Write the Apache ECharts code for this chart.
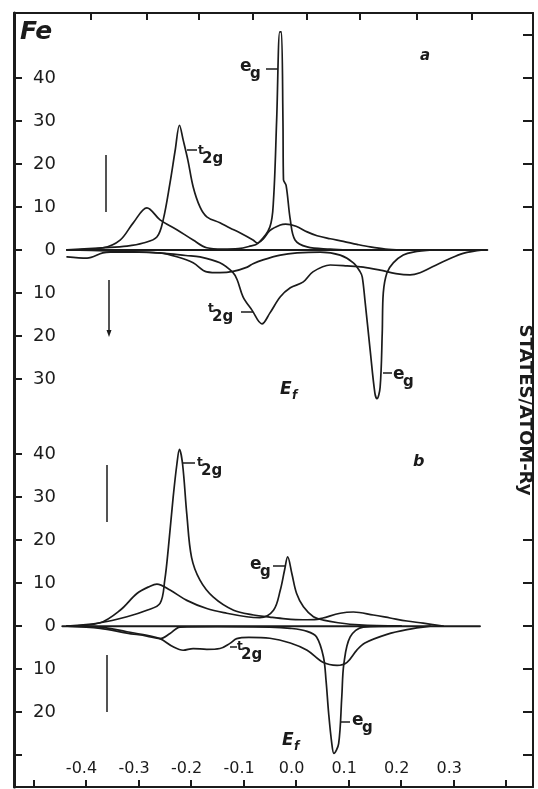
<!DOCTYPE html>
<html>
<head>
<meta charset="utf-8">
<script src="https://cdn.jsdelivr.net/npm/echarts@6/dist/echarts.min.js"></script>
<style>
  html, body { margin: 0; padding: 0; background: #fff; }
  #chart { width: 538px; height: 789px; }
</style>
</head>
<body>
<div id="chart"></div>
<script>
// Fe density of states, energy (Ry) on x, states/atom-Ry on y
// spin up drawn positive, spin down negative

// panel a
const aUpT2g = [[-0.436,0],[-0.368,0.5],[-0.322,0.9],[-0.291,1.6],[-0.265,3.0],[-0.253,7.0],[-0.240,15.6],[-0.230,23.3],[-0.222,29.0],[-0.215,25.6],[-0.206,20.9],[-0.196,14.7],[-0.183,10.0],[-0.170,7.7],[-0.145,6.3],[-0.126,5.1],[-0.107,4.0],[-0.082,2.3],[-0.074,1.6],[-0.063,2.5],[-0.050,4.5],[-0.030,5.8],[-0.020,6.0],[0.000,5.5],[0.021,4.2],[0.040,3.3],[0.065,2.6],[0.090,2.0],[0.116,1.3],[0.141,0.7],[0.170,0.2],[0.200,0]];
const aUpEg = [[-0.436,0],[-0.368,0.5],[-0.335,2.3],[-0.310,6.3],[-0.284,9.8],[-0.259,7.0],[-0.227,4.7],[-0.196,2.3],[-0.170,0.5],[-0.140,0.2],[-0.110,0.3],[-0.090,0.8],[-0.072,1.6],[-0.050,5.3],[-0.043,11.6],[-0.037,30.2],[-0.031,50.7],[-0.028,50.7],[-0.025,30.0],[-0.024,16.3],[-0.019,15.0],[-0.011,7.0],[-0.002,2.3],[0.021,0.7],[0.065,0.2],[0.100,0]];
const aDnT2g = [[-0.436,-1.6],[-0.398,-1.9],[-0.368,-0.7],[-0.354,-0.5],[-0.300,-0.5],[-0.250,-0.8],[-0.210,-1.3],[-0.183,-1.6],[-0.145,-3.0],[-0.120,-5.3],[-0.112,-7.0],[-0.101,-10.9],[-0.084,-14.0],[-0.065,-17.2],[-0.050,-14.7],[-0.030,-10.9],[-0.011,-8.8],[0.013,-7.5],[0.032,-5.1],[0.065,-3.5],[0.097,-3.7],[0.128,-4.0],[0.160,-4.7],[0.190,-5.5],[0.217,-5.8],[0.236,-5.3],[0.255,-4.2],[0.288,-2.3],[0.318,-0.8],[0.356,0]];
const aDnEg = [[-0.436,0],[-0.360,-0.2],[-0.300,-0.5],[-0.259,-0.7],[-0.227,-1.6],[-0.196,-3.0],[-0.170,-5.1],[-0.145,-5.3],[-0.120,-5.0],[-0.093,-4.0],[-0.082,-3.2],[-0.063,-2.3],[-0.030,-1.2],[0.002,-0.7],[0.046,-0.5],[0.084,-1.2],[0.109,-3.0],[0.122,-5.1],[0.126,-6.3],[0.131,-11.6],[0.141,-23.3],[0.150,-33.3],[0.154,-34.6],[0.160,-31.9],[0.164,-19.3],[0.166,-10.0],[0.173,-5.3],[0.185,-3.0],[0.204,-1.2],[0.223,-0.5],[0.260,0]];
const aZero = [[-0.436,0],[0.364,0]];

// panel b
const bUpT2g = [[-0.436,0],[-0.373,0.8],[-0.322,2.2],[-0.284,3.7],[-0.259,5.3],[-0.250,10.7],[-0.243,18.4],[-0.234,30.0],[-0.227,37.6],[-0.222,41.1],[-0.216,37.6],[-0.208,26.0],[-0.199,16.0],[-0.183,10.7],[-0.158,6.8],[-0.119,3.7],[-0.081,2.6],[-0.050,2.1],[-0.020,1.7],[0.013,1.5],[0.040,1.6],[0.051,1.9],[0.084,3.0],[0.109,3.3],[0.147,2.6],[0.179,1.9],[0.211,1.2],[0.242,0.7],[0.280,0]];
const bUpEg = [[-0.436,0],[-0.373,0.8],[-0.335,3.7],[-0.303,7.6],[-0.278,9.3],[-0.265,9.8],[-0.240,8.4],[-0.208,6.0],[-0.170,4.1],[-0.132,3.0],[-0.094,2.2],[-0.069,2.0],[-0.043,3.7],[-0.030,8.4],[-0.022,13.0],[-0.016,16.1],[-0.008,12.2],[0.001,7.6],[0.014,4.5],[0.033,2.2],[0.052,1.4],[0.080,0.8],[0.120,0.3],[0.200,0]];
const bDnT2g = [[-0.436,0],[-0.373,-0.2],[-0.322,-1.3],[-0.284,-2.1],[-0.259,-2.9],[-0.234,-4.8],[-0.215,-5.6],[-0.196,-5.2],[-0.170,-5.4],[-0.145,-5.2],[-0.126,-4.0],[-0.113,-2.9],[-0.090,-2.6],[-0.050,-2.8],[-0.011,-3.9],[0.021,-5.6],[0.051,-8.4],[0.078,-9.1],[0.097,-8.4],[0.116,-5.5],[0.131,-3.9],[0.173,-1.9],[0.211,-0.8],[0.255,0]];
const bDnEg = [[-0.436,0],[-0.373,-0.5],[-0.322,-1.6],[-0.284,-2.3],[-0.259,-2.9],[-0.240,-1.7],[-0.221,-0.2],[-0.150,-0.1],[-0.050,-0.2],[-0.011,-0.5],[0.021,-1.2],[0.039,-2.5],[0.052,-7.1],[0.057,-12.6],[0.062,-20.3],[0.068,-27.3],[0.072,-29.6],[0.081,-27.3],[0.087,-16.4],[0.091,-8.7],[0.103,-2.5],[0.128,-0.2],[0.200,0]];
const bZero = [[-0.445,0],[0.350,0]];

// axes
const xRange = [-0.537, 0.451];
const xTicks = [-0.5, -0.4, -0.3, -0.2, -0.1, 0, 0.1, 0.2, 0.3, 0.4];
const xLabels = [-0.4, -0.3, -0.2, -0.1, 0, 0.1, 0.2, 0.3];
const topTicks = [-0.39, -0.285, -0.185, -0.083, 0.02, 0.122, 0.23, 0.335];
const aRange = [-34.9, 55.1];
const bRange = [-37.4, 52.6];
const aLeftTicks = [40, 30, 20, 10, 0, -10, -20, -30];
const aRightTicks = [50, 40, 30, 20, 10, 0];
const bLeftTicks = [40, 30, 20, 10, 0, -10, -20, -30];
const bLeftLabels = [40, 30, 20, 10, 0, -10, -20];
const bRightTicks = [20, 10, 0, -10, -20, -30];

const ink = '#1b1b1b';
const font = 'DejaVu Sans';

const chart = echarts.init(document.getElementById('chart'), null, { renderer: 'canvas' });

function leftAxis(gridIndex, range, ticks, labels) {
  return {
    type: 'value', gridIndex: gridIndex, position: 'left', min: range[0], max: range[1],
    axisLine: { show: true, onZero: false, lineStyle: { color: ink, width: 3 } },
    axisTick: { show: true, inside: true, length: 8, customValues: ticks, lineStyle: { color: ink, width: 2 } },
    axisLabel: {
      show: true, inside: true, align: 'right', margin: 42, customValues: labels,
      formatter: v => String(Math.abs(v)), color: ink, fontFamily: font, fontSize: 18
    },
    splitLine: { show: false }
  };
}

function rightAxis(gridIndex, range, ticks) {
  return {
    type: 'value', gridIndex: gridIndex, position: 'right', min: range[0], max: range[1],
    axisLine: { show: true, onZero: false, lineStyle: { color: ink, width: 2 } },
    axisTick: { show: true, inside: true, length: 10, customValues: ticks, lineStyle: { color: ink, width: 2 } },
    axisLabel: { show: false },
    splitLine: { show: false }
  };
}

function curve(data, xi, yi, width) {
  return {
    type: 'line', xAxisIndex: xi, yAxisIndex: yi, data: data,
    symbol: 'none', smooth: 0.35, clip: false,
    lineStyle: { color: ink, width: width || 1.7, join: 'round', cap: 'round' }, silent: true
  };
}

function line(x1, y1, x2, y2, w) {
  return { type: 'line', shape: { x1: x1, y1: y1, x2: x2, y2: y2 }, style: { stroke: ink, lineWidth: w || 1.5 } };
}

function text(x, y, str, size, extra) {
  return {
    type: 'text', x: x, y: y,
    style: Object.assign({ text: str, fill: ink, fontFamily: font, fontSize: size, fontWeight: 'bold', align: 'left', verticalAlign: 'middle' }, extra || {})
  };
}

// subscripted labels: t2g, eg, Ef
function t2g(x, y) {
  return [text(x, y, 't', 12), text(x + 4, y + 8, '2g', 15)];
}
function eg(x, y) {
  return [text(x, y, 'e', 17), text(x + 10, y + 7, 'g', 15)];
}
function ef(x, y) {
  return [text(x, y, 'E', 17, { fontStyle: 'italic' }), text(x + 12, y + 6, 'f', 12, { fontStyle: 'italic' })];
}

const graphics = [].concat(
  [text(20, 32, 'Fe', 25, { fontStyle: 'italic' }),
   text(420, 56, 'a', 15, { fontStyle: 'italic' }),
   text(413, 462, 'b', 16, { fontStyle: 'italic' }),
   {
     type: 'text', x: 525, y: 410, rotation: -Math.PI / 2,
     style: { text: 'STATES/ATOM-Ry', fill: ink, fontFamily: font, fontSize: 18, fontWeight: 'bold',
              align: 'center', verticalAlign: 'middle', backgroundColor: '#fff', padding: [2, 3] }
   },
   // spin arrows
   line(106, 155, 106, 212), line(109, 280, 109, 334),
   { type: 'polygon', shape: { points: [[106.5, 330], [111.5, 330], [109, 337]] }, style: { fill: ink } },
   line(107, 465, 107, 522), line(107, 655, 107, 712),
   // leader lines
   line(187, 150, 197, 150), line(241, 312, 253, 312),
   line(266, 69, 278, 69), line(383, 373, 392, 373),
   line(183, 463, 195, 463), line(230, 647, 237, 647),
   line(273, 566, 285, 566), line(340, 722, 350, 722)],
  t2g(198, 151), t2g(208, 309), eg(240, 67), eg(393, 375),
  t2g(197, 463), t2g(237, 647), eg(250, 565), eg(352, 721),
  ef(280, 390), ef(282, 741)
);

const option = {
  backgroundColor: '#ffffff',
  animation: false,
  grid: [
    { left: 14, top: 13, width: 519, height: 387 },
    { left: 14, top: 400, width: 519, height: 387 }
  ],
  xAxis: [
    {
      type: 'value', gridIndex: 0, position: 'top', min: xRange[0], max: xRange[1],
      axisLine: { show: true, onZero: false, lineStyle: { color: ink, width: 2 } },
      axisTick: { show: true, inside: true, length: 7, customValues: topTicks, lineStyle: { color: ink, width: 2 } },
      axisLabel: { show: false },
      splitLine: { show: false }
    },
    {
      type: 'value', gridIndex: 1, position: 'bottom', min: xRange[0], max: xRange[1],
      axisLine: { show: true, onZero: false, lineStyle: { color: ink, width: 2 } },
      axisTick: { show: true, inside: true, length: 7, customValues: xTicks, lineStyle: { color: ink, width: 2 } },
      axisLabel: {
        show: true, inside: true, margin: 10, customValues: xLabels,
        formatter: v => (v < 0 ? '-' : '') + Math.abs(v).toFixed(1),
        color: ink, fontFamily: font, fontSize: 16, padding: [0, 9, 0, 0]
      },
      splitLine: { show: false }
    }
  ],
  yAxis: [
    leftAxis(0, aRange, aLeftTicks, aLeftTicks),
    rightAxis(0, aRange, aRightTicks),
    leftAxis(1, bRange, bLeftTicks, bLeftLabels),
    rightAxis(1, bRange, bRightTicks)
  ],
  series: [
    curve(aZero, 0, 0, 2),
    curve(aUpT2g, 0, 0), curve(aUpEg, 0, 0), curve(aDnT2g, 0, 0), curve(aDnEg, 0, 0),
    curve(bZero, 1, 2, 2),
    curve(bUpT2g, 1, 2), curve(bUpEg, 1, 2), curve(bDnT2g, 1, 2), curve(bDnEg, 1, 2)
  ],
  graphic: graphics
};

chart.setOption(option);
</script>
</body>
</html>
